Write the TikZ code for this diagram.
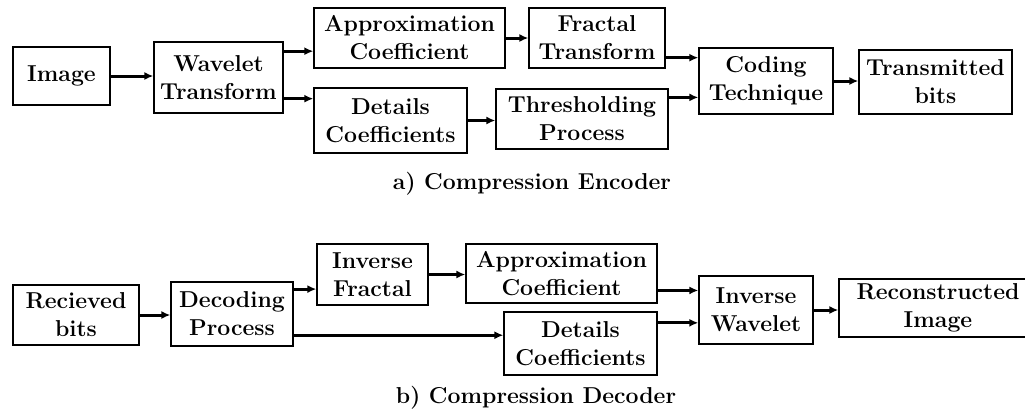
\documentclass[tikz,border=0pt]{standalone}
\usepackage{tikz}
\usetikzlibrary{arrows.meta}

\begin{document}
\begin{tikzpicture}[x=1pt,y=-1pt,
	blk/.style={draw,line width=1.3pt,inner sep=0pt,align=center,
		font=\fontsize{23}{28}\selectfont\bfseries},
	captxt/.style={font=\fontsize{23}{28}\selectfont\bfseries}]
	\useasboundingbox (0,0) rectangle (1025,413);
	% encoder
	\node[blk,minimum width=97,minimum height=58] (img) at (61.5,76) {Image};
	\node[blk,minimum width=129,minimum height=71] (wt) at (218.5,77.5) {Wavelet\\Transform};
	\node[blk,minimum width=191,minimum height=60] (ac) at (409.5,38) {Approximation\\Coefficient};
	\node[blk,minimum width=153,minimum height=65] (dc) at (390.5,120.5) {Details\\Coefficients};
	\node[blk,minimum width=136,minimum height=60] (ft) at (597,38) {Fractal\\Transform};
	\node[blk,minimum width=172,minimum height=60] (th) at (582,119) {Thresholding\\Process};
	\node[blk,minimum width=134,minimum height=66] (ct) at (766,81) {Coding\\Technique};
	\node[blk,minimum width=153,minimum height=64] (tb) at (935.5,82) {Transmitted\\bits};
	\node[captxt] (capA) at (532,184) {a) Compression Encoder};
	% decoder
	\node[blk,minimum width=126,minimum height=60] (rb) at (76,315) {Recieved\\bits};
	\node[blk,minimum width=122,minimum height=64] (dp) at (232,314) {Decoding\\Process};
	\node[blk,minimum width=111,minimum height=61] (ifr) at (372.5,274.5) {Inverse\\Fractal};
	\node[blk,minimum width=191,minimum height=59] (da) at (561.5,273.5) {Approximation\\Coefficient};
	\node[blk,minimum width=153,minimum height=63] (dd) at (580.5,343.5) {Details\\Coefficients};
	\node[blk,minimum width=114,minimum height=68] (iw) at (756,310) {Inverse\\Wavelet};
	\node[blk,minimum width=198,minimum height=58] (ri) at (938,308) {Reconstructed\\Image};
	\node[captxt] (capB) at (536,398) {b) Compression Decoder};
	%
	\path[->,line width=3pt,>={Latex[length=9pt,width=8pt]}]
	(img.east) edge (wt.west |- img.east)
	(wt.22) edge (ac.west |- wt.22)
	(wt.-18) edge (dc.west |- wt.-18)
	(ac.east) edge (ft.west)
	(dc.east) edge (th.west |- dc.east)
	(ft.-16) edge (ct.west |- ft.-16)
	(th.14) edge (ct.west |- th.14)
	(ct.east) edge (tb.west |- ct.east)
	(rb.east) edge (dp.west |- rb.east)
	(dp.22) edge (ifr.west |- dp.22)
	(dp.-19) edge (dd.west |- dp.-19)
	(ifr.east) edge (da.west |- ifr.east)
	(da.-10) edge (iw.west |- da.-10)
	(dd.15) edge (iw.west |- dd.15)
	(iw.east) edge (ri.west |- iw.east);
\end{tikzpicture}
\end{document}
